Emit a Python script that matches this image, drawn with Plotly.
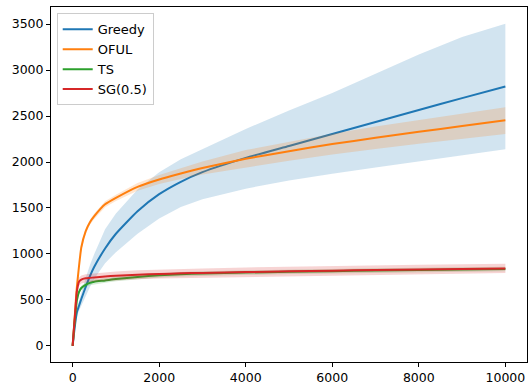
import plotly.graph_objects as go

# time steps
steps = [0, 25, 50, 75, 100, 150, 200, 300, 400, 500, 750, 1000, 1500, 2000, 2500,
         3000, 4000, 5000, 6000, 7000, 8000, 9000, 10000]

names = ["Greedy", "OFUL", "TS", "SG(0.5)"]
colors = ["#1f77b4", "#ff7f0e", "#2ca02c", "#d62728"]

x_ticks = [0, 2000, 4000, 6000, 8000, 10000]
x_tick_labels = ["0", "2000", "4000", "6000", "8000", "10000"]
y_ticks = [0, 500, 1000, 1500, 2000, 2500, 3000, 3500]

greedy_mean = [0, 110, 210, 300, 370, 440, 510, 640, 760, 860, 1060, 1220, 1465, 1650, 1785,
               1890, 2045, 2175, 2305, 2435, 2565, 2695, 2822]
greedy_low = [0, 95, 185, 265, 325, 385, 440, 545, 640, 730, 900, 1020, 1220, 1385, 1510,
              1595, 1710, 1800, 1872, 1940, 2010, 2075, 2139]
greedy_high = [0, 125, 235, 335, 415, 495, 580, 735, 880, 1000, 1270, 1440, 1700, 1890, 2030,
               2140, 2360, 2560, 2751, 2960, 3170, 3360, 3504]

oful_mean = [0, 160, 330, 500, 650, 880, 1070, 1245, 1345, 1411, 1540, 1610, 1730, 1810, 1875,
             1935, 2035, 2118, 2195, 2263, 2328, 2392, 2454]
oful_low = [0, 150, 315, 482, 630, 857, 1045, 1218, 1317, 1381, 1507, 1575, 1688, 1762, 1815,
            1865, 1940, 2013, 2082, 2141, 2200, 2255, 2306]
oful_high = [0, 170, 345, 518, 670, 903, 1095, 1272, 1373, 1441, 1573, 1645, 1772, 1858, 1935,
             2005, 2130, 2223, 2308, 2385, 2456, 2529, 2595]

ts_mean = [0, 150, 280, 400, 500, 590, 630, 665, 685, 698, 712, 728, 750, 768, 780,
           788, 798, 806, 813, 820, 826, 832, 837]
ts_low = [0, 135, 260, 378, 476, 565, 605, 640, 660, 673, 687, 703, 725, 743, 755,
          763, 773, 781, 788, 795, 801, 807, 812]
ts_high = [0, 165, 300, 422, 524, 615, 655, 690, 710, 723, 737, 753, 775, 793, 805,
           813, 823, 831, 838, 845, 851, 857, 862]

sg_mean = [0, 160, 310, 470, 600, 700, 722, 735, 740, 745, 755, 763, 774, 782, 789,
           794, 803, 811, 818, 825, 831, 837, 843]
sg_low = [0, 130, 270, 425, 555, 655, 678, 690, 696, 700, 709, 716, 726, 734, 740,
          745, 753, 760, 767, 774, 780, 786, 793]
sg_high = [0, 190, 350, 515, 645, 745, 766, 780, 784, 790, 801, 810, 822, 830, 838,
           843, 853, 862, 869, 876, 882, 888, 893]

series = [
    (greedy_mean, greedy_low, greedy_high),
    (oful_mean, oful_low, oful_high),
    (ts_mean, ts_low, ts_high),
    (sg_mean, sg_low, sg_high),
]

def rgba(hexc, a):
    h = hexc.lstrip("#")
    r, g, b = int(h[0:2], 16), int(h[2:4], 16), int(h[4:6], 16)
    return f"rgba({r},{g},{b},{a})"

fig = go.Figure()
for name, col, (m, lo, hi) in zip(names, colors, series):
    fig.add_trace(go.Scatter(
        x=steps + steps[::-1], y=hi + lo[::-1], fill="toself",
        fillcolor=rgba(col, 0.2), line=dict(width=0, color="rgba(0,0,0,0)"),
        mode="lines", showlegend=False, hoverinfo="skip"))
    fig.add_trace(go.Scatter(
        x=steps, y=m, mode="lines", name=name,
        line=dict(color=col, width=2, shape="spline", smoothing=0.5)))

axis_common = dict(
    showgrid=False, zeroline=False, showline=True, linecolor="black",
    linewidth=1, mirror=True, ticks="outside", ticklen=4, tickwidth=1,
    tickcolor="black", automargin=False,
    tickfont=dict(family="DejaVu Sans", size=12.5, color="black"),
)

fig.update_layout(
    width=528, height=384,
    margin=dict(l=51, r=1, t=7, b=22, autoexpand=False),
    paper_bgcolor="white", plot_bgcolor="white",
    font=dict(family="DejaVu Sans", size=12.5, color="black"),
    xaxis=dict(range=[-500, 10500], tickvals=x_ticks, ticktext=x_tick_labels, **axis_common),
    yaxis=dict(range=[-175, 3686], tickvals=y_ticks, **axis_common),
    legend=dict(x=0.012, y=0.982, xanchor="left", yanchor="top",
                bgcolor="rgba(255,255,255,0.8)", bordercolor="#cccccc", borderwidth=1,
                tracegroupgap=0,
                font=dict(family="DejaVu Sans", size=13, color="black")),
)

fig.write_html("out.html", config={"displayModeBar": False},
               post_script="document.body.style.margin='0';")
